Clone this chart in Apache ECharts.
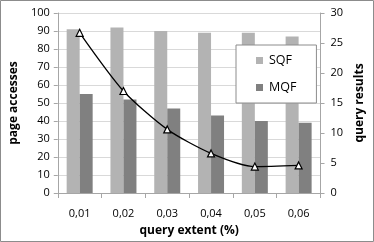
<!DOCTYPE html>
<html><head><meta charset="utf-8">
<script src="https://cdn.jsdelivr.net/npm/echarts@6/dist/echarts.min.js"></script>
<style>html,body{margin:0;padding:0;background:#fff}#c{width:374px;height:242px}</style>
</head><body><div id="c"></div>
<script>
const categories = ['0,01','0,02','0,03','0,04','0,05','0,06'];
const sqf = [91, 92, 90, 89, 89, 87];
const mqf = [55, 52, 47, 43, 40, 39];
const results = [26.7, 17.0, 10.6, 6.6, 4.4, 4.6];
const leftTicks = [0, 100, 10];
const rightTicks = [0, 30, 5];

const font = 'Open Sans';
const chart = echarts.init(document.getElementById('c'));
chart.setOption({
  animation: false,
  backgroundColor: '#fff',
  textStyle: {fontFamily: font},
  graphic: [{type:'rect', shape:{x:0.5,y:0.5,width:373,height:241}, style:{fill:'none', stroke:'#8c8c8c', lineWidth:1}, z:-1}],
  grid: {left:55, right:47, top:13, bottom:44},
  legend: {
    data: ['SQF','MQF'], orient:'vertical', left:236, top:45, width:81,
    padding:[9,20,9,20], itemGap:14, itemWidth:7, itemHeight:7,
    icon:'rect', backgroundColor:'#fff', borderColor:'#8c8c8c', borderWidth:1,
    textStyle:{fontFamily:font, fontSize:12.5, color:'#000', padding:[0,0,0,1]}
  },
  xAxis: {
    type:'category', data:categories,
    name:'query extent (%)', nameLocation:'middle', nameGap:32,
    nameTextStyle:{fontFamily:font, fontWeight:'bold', fontSize:12, color:'#000'},
    axisLine:{lineStyle:{color:'#a6a6a6'}},
    axisTick:{show:true, length:5, lineStyle:{color:'#a6a6a6'}},
    axisLabel:{color:'#000', fontSize:11, margin:15, fontFamily:font}
  },
  yAxis: [{
    type:'value', min:leftTicks[0], max:leftTicks[1], interval:leftTicks[2],
    name:'page accesses', nameLocation:'middle', nameGap:32,
    nameTextStyle:{fontFamily:font, fontWeight:'bold', fontSize:12, color:'#000'},
    axisLine:{show:true, lineStyle:{color:'#a6a6a6'}},
    axisTick:{show:true, length:4, lineStyle:{color:'#a6a6a6'}},
    axisLabel:{color:'#000', fontSize:11, margin:8, fontFamily:font},
    splitLine:{lineStyle:{color:'#d9d9d9'}}
  },{
    type:'value', min:rightTicks[0], max:rightTicks[1], interval:rightTicks[2],
    name:'query results', nameLocation:'middle', nameGap:30, nameRotate:90,
    nameTextStyle:{fontFamily:font, fontWeight:'bold', fontSize:12, color:'#000'},
    axisLine:{show:true, lineStyle:{color:'#a6a6a6'}},
    axisTick:{show:true, length:4, lineStyle:{color:'#a6a6a6'}},
    axisLabel:{color:'#000', fontSize:11, margin:10, fontFamily:font},
    splitLine:{show:false}
  }],
  series: [
    {name:'SQF', type:'bar', data:sqf, barWidth:13, barGap:'0%', itemStyle:{color:'#b3b3b3'}},
    {name:'MQF', type:'bar', data:mqf, barWidth:13, barGap:'0%', itemStyle:{color:'#808080'}},
    {name:'results', type:'line', yAxisIndex:1, data:results, smooth:0.25,
     symbol:'triangle', symbolSize:7, showSymbol:true,
     lineStyle:{color:'#000', width:1.3},
     itemStyle:{color:'#fff', borderColor:'#000', borderWidth:1.2}, z:5}
  ]
});
</script></body></html>
